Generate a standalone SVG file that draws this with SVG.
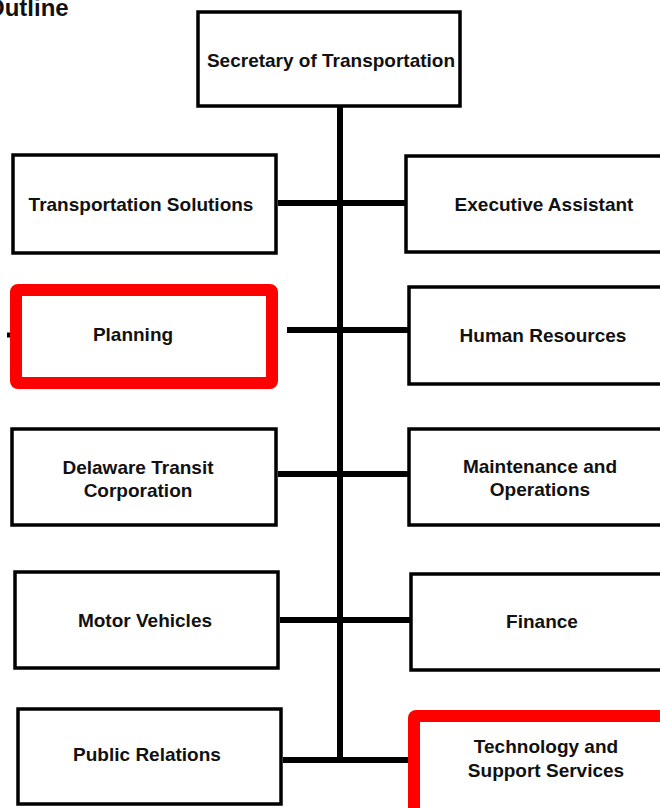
<svg xmlns="http://www.w3.org/2000/svg" width="660" height="808" viewBox="0 0 660 808">
<style>
.box{fill:#fff;stroke:#000;stroke-width:3.5}
.hl{fill:#fff;stroke:#f00;stroke-width:12;stroke-linejoin:round}
.lbl{font-family:"Liberation Sans",Arial,sans-serif;font-weight:bold;font-size:19px;fill:#111;text-anchor:middle}
.ttl{font-family:"Liberation Sans",Arial,sans-serif;font-weight:bold;font-size:24px;fill:#111}
.con{stroke:#000;stroke-width:6;fill:none}
</style>
<rect width="660" height="808" fill="#fff"/>
<text class="ttl" x="-14" y="16">Outline</text>
<g id="connectors">
<line class="con" x1="340" y1="106" x2="340" y2="763"/>
<line class="con" x1="278" y1="203" x2="405" y2="203"/>
<line class="con" x1="287" y1="330" x2="408" y2="330"/>
<line class="con" x1="278" y1="474" x2="408" y2="474"/>
<line class="con" x1="280" y1="620" x2="410" y2="620"/>
<line class="con" x1="283" y1="760" x2="409" y2="760"/>
<line x1="7" y1="335" x2="11" y2="335" stroke="#000" stroke-width="5"/>
</g>
<g id="secretary"><rect class="box" x="198" y="12" width="262" height="94"/><text class="lbl" x="331" y="67">Secretary of Transportation</text></g>
<g id="transportation-solutions"><rect class="box" x="13" y="155" width="263" height="98"/><text class="lbl" x="141" y="211">Transportation Solutions</text></g>
<g id="executive-assistant"><rect class="box" x="406" y="156" width="270" height="96"/><text class="lbl" x="544" y="211">Executive Assistant</text></g>
<g id="planning"><rect class="hl" x="16" y="290" width="256" height="93" rx="2"/><text class="lbl" x="133" y="341">Planning</text></g>
<g id="human-resources"><rect class="box" x="409" y="287" width="270" height="97"/><text class="lbl" x="543" y="342">Human Resources</text></g>
<g id="delaware-transit"><rect class="box" x="12" y="429" width="264" height="96"/><text class="lbl" x="138" y="474">Delaware Transit</text><text class="lbl" x="138" y="497">Corporation</text></g>
<g id="maintenance"><rect class="box" x="409" y="429" width="270" height="96"/><text class="lbl" x="540" y="473">Maintenance and</text><text class="lbl" x="540" y="496">Operations</text></g>
<g id="motor-vehicles"><rect class="box" x="15" y="572" width="263" height="96"/><text class="lbl" x="145" y="627">Motor Vehicles</text></g>
<g id="finance"><rect class="box" x="411" y="574" width="270" height="96"/><text class="lbl" x="542" y="628">Finance</text></g>
<g id="public-relations"><rect class="box" x="18" y="709" width="263" height="95"/><text class="lbl" x="147" y="761">Public Relations</text></g>
<g id="technology"><rect class="hl" x="414" y="716" width="260" height="100" rx="2"/><text class="lbl" x="546" y="753">Technology and</text><text class="lbl" x="546" y="777">Support Services</text></g>
</svg>
